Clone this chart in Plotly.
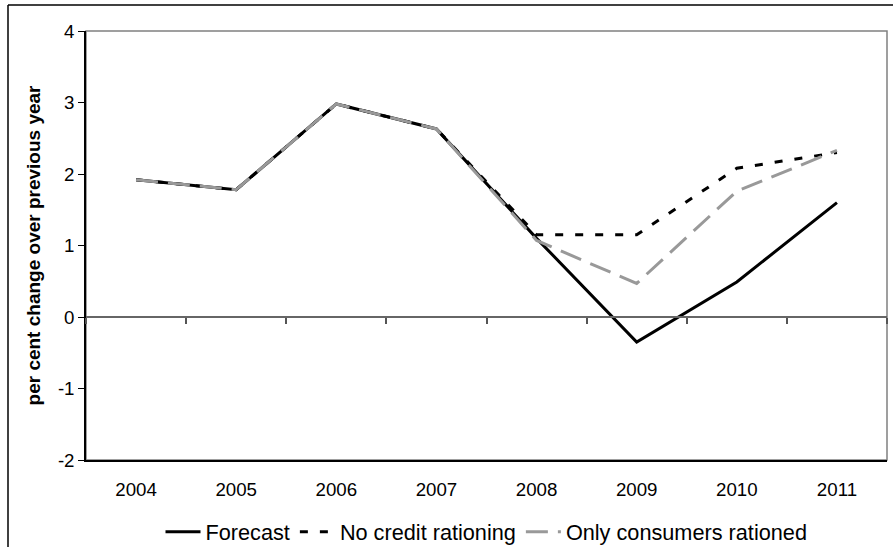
import plotly.graph_objects as go

years = ["2004", "2005", "2006", "2007", "2008", "2009", "2010", "2011"]
forecast = [1.92, 1.78, 2.98, 2.63, 1.10, -0.35, 0.49, 1.60]
no_credit = [1.92, 1.78, 2.98, 2.63, 1.15, 1.15, 2.08, 2.30]
only_consumers = [1.92, 1.78, 2.98, 2.63, 1.07, 0.47, 1.76, 2.33]
y_ticks = [-2, -1, 0, 1, 2, 3, 4]
y_tick_labels = ["-2", "-1", "0", "1", "2", "3", "4"]

xpos = list(range(len(years)))
boundaries = [i - 0.5 for i in range(len(years) + 1)]

FONT = "Liberation Sans, Arial, sans-serif"

fig = go.Figure()
fig.add_trace(go.Scatter(x=xpos, y=forecast, mode="lines", name="Forecast",
                         line=dict(color="#000000", width=3)))
fig.add_trace(go.Scatter(x=xpos, y=no_credit, mode="lines", name="No credit rationing",
                         line=dict(color="#000000", width=3, dash="8px,12px")))
fig.add_trace(go.Scatter(x=xpos, y=only_consumers, mode="lines", name="Only consumers rationed",
                         line=dict(color="#999999", width=3, dash="22px,10px")))
# invisible helper trace for the zero-line axis
fig.add_trace(go.Scatter(x=[boundaries[0], boundaries[-1]], y=[0, 0], xaxis="x2",
                         mode="lines", line=dict(width=0), showlegend=False, hoverinfo="skip"))

fig.update_layout(
    width=893, height=547,
    margin=dict(l=86, r=6, t=31, b=87, autoexpand=False),
    paper_bgcolor="white", plot_bgcolor="white",
    font=dict(family=FONT, color="#000000", size=18.7),
    showlegend=True,
    legend=dict(orientation="h", x=0.5, xanchor="center", y=-0.168, yanchor="middle",
                font=dict(size=21.7), itemwidth=35, tracegroupgap=0,
                bgcolor="rgba(0,0,0,0)"),
    xaxis=dict(range=[boundaries[0], boundaries[-1]], tickvals=xpos, ticktext=years,
               showgrid=False, zeroline=False, showline=True, linecolor="#000000",
               linewidth=1.5, ticks="", ticklabelstandoff=12, automargin=False,
               tickfont=dict(size=18.7)),
    xaxis2=dict(overlaying="x", anchor="free", position=1/3,
                range=[boundaries[0], boundaries[-1]], tickvals=boundaries,
                showticklabels=False, ticks="outside", ticklen=6, tickcolor="#555555",
                tickwidth=1.5, showline=True, linecolor="#666666", linewidth=1.5,
                showgrid=False, zeroline=False, automargin=False),
    yaxis=dict(range=[-2, 4], tickvals=y_ticks, ticktext=y_tick_labels,
               showgrid=False, zeroline=False, automargin=False,
               showline=True, linecolor="#000000", linewidth=1.5,
               ticks="outside", ticklen=6, tickcolor="#000000",
               tickfont=dict(size=18.7),
               title=dict(text="<b>per cent change over previous year</b>",
                          font=dict(size=19), standoff=12)),
    shapes=[
        dict(type="rect", xref="paper", yref="paper", x0=0, x1=1, y0=0, y1=1,
             line=dict(color="#808080", width=1.5), layer="below"),
        dict(type="line", xref="paper", yref="paper",
             x0=(8 - 86) / 801, x1=(8 - 86) / 801, y0=1 + 26 / 429, y1=-0.4,
             line=dict(color="#000000", width=1.5)),
        dict(type="line", xref="paper", yref="paper",
             x0=(8 - 86) / 801, x1=1.1, y0=1 + 26 / 429, y1=1 + 26 / 429,
             line=dict(color="#000000", width=1.5)),
    ],
)

fig.write_html("out.html", config={"displayModeBar": False},
               post_script="document.body.style.margin='0px';document.body.style.overflow='hidden';")
